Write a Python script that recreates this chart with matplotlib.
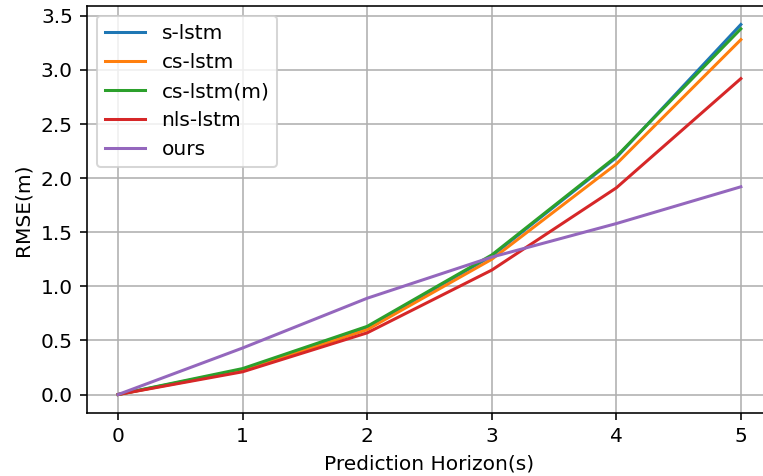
import numpy as np
import matplotlib
matplotlib.use('Agg')
import matplotlib.pyplot as plt

# Prediction horizon in seconds
horizon = [0, 1, 2, 3, 4, 5]

# RMSE values
s_lstm = [0, 0.23, 0.62, 1.28, 2.19, 3.42]
cs_lstm = [0, 0.22, 0.60, 1.25, 2.13, 3.28]
cs_lstm_m = [0, 0.24, 0.63, 1.29, 2.20, 3.38]
nls_lstm = [0, 0.21, 0.57, 1.15, 1.91, 2.92]
ours = [0, 0.43, 0.89, 1.27, 1.58, 1.92]

dpi = 145
fig = plt.figure(figsize=(763 / dpi, 476 / dpi), dpi=dpi)
ax = fig.add_axes([87 / 763, 63 / 476, 685 / 763, 407 / 476])

ax.plot(horizon, s_lstm, label='s-lstm')
ax.plot(horizon, cs_lstm, label='cs-lstm')
ax.plot(horizon, cs_lstm_m, label='cs-lstm(m)')
ax.plot(horizon, nls_lstm, label='nls-lstm')
ax.plot(horizon, ours, label='ours', color='tab:purple')

ax.set_xlabel('Prediction Horizon(s)')
ax.set_ylabel('RMSE(m)')
ax.set_yticks(np.arange(0, 3.51, 0.5))
ax.grid(True)
ax.legend(loc='upper left')

fig.savefig('out.png', dpi=dpi)
